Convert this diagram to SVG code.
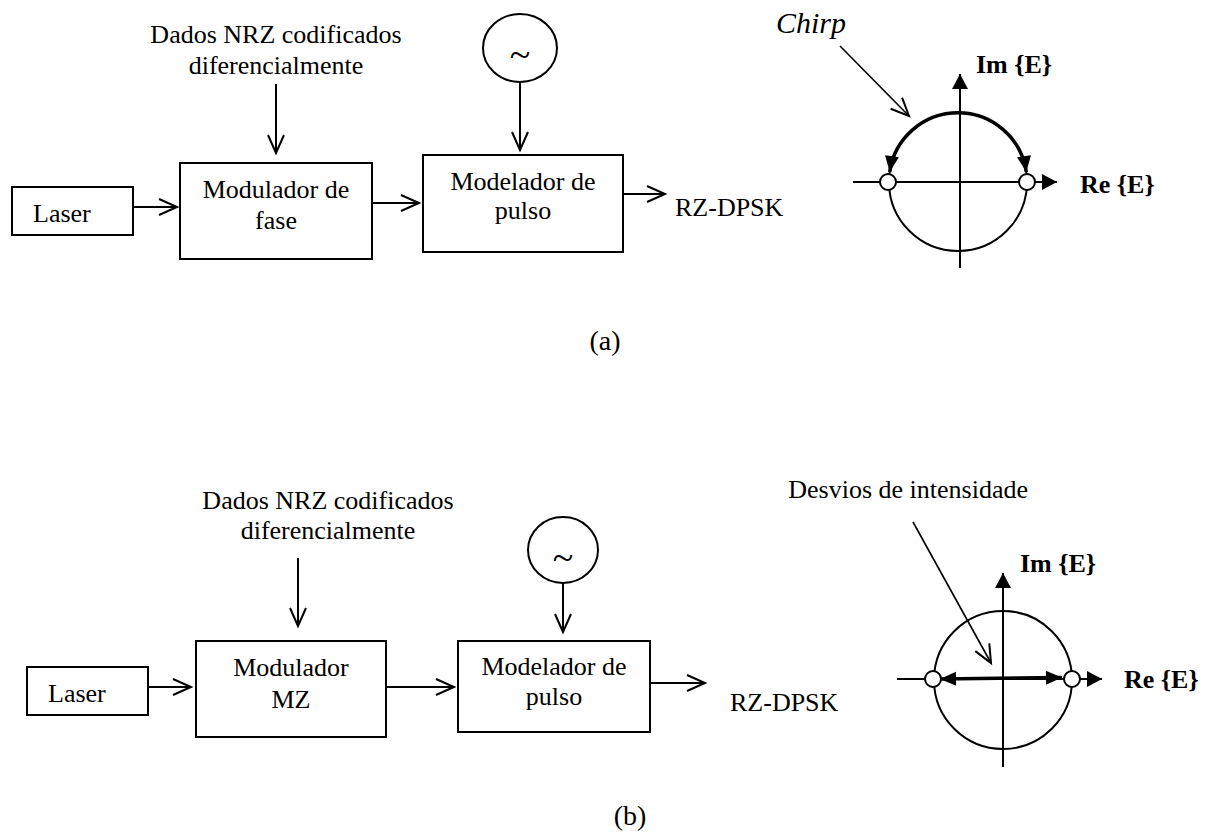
<svg xmlns="http://www.w3.org/2000/svg" width="1205" height="833" viewBox="0 0 1205 833">
<style>
.t{font-family:"Liberation Serif","Times New Roman",serif;font-size:26px;fill:#000}
.m{text-anchor:middle}
.b{font-weight:bold}
.tl{font-size:38px}
.box{fill:#fff;stroke:#000;stroke-width:2}
.ln{fill:none;stroke:#000;stroke-width:2}
.thin{fill:none;stroke:#000;stroke-width:1.6}
.thk{fill:none;stroke:#000;stroke-width:3.5}
.dot{fill:#fff;stroke:#000;stroke-width:2}
</style>
<defs>
<marker id="open" markerUnits="userSpaceOnUse" viewBox="-20 -10 22 20" refX="0" refY="0" markerWidth="22" markerHeight="20" orient="auto" overflow="visible">
<path d="M-18,-8 L0,0 L-18,8" fill="none" stroke="#000" stroke-width="2"/>
</marker>
<marker id="fill" markerUnits="userSpaceOnUse" viewBox="-16 -9 17 18" refX="0" refY="0" markerWidth="17" markerHeight="18" orient="auto-start-reverse" overflow="visible">
<path d="M-15,-8 L0,0 L-15,8 Z" fill="#000"/>
</marker>
<marker id="fill2" markerUnits="userSpaceOnUse" viewBox="-17 -8 18 16" refX="0" refY="0" markerWidth="18" markerHeight="16" orient="auto-start-reverse" overflow="visible">
<path d="M-16,-7 L0,0 L-16,7 Z" fill="#000"/>
</marker>
</defs>
<rect width="1205" height="833" fill="#fff"/>

<!-- (a) -->
<g id="laser-a"><rect class="box" x="12" y="187" width="121" height="48"/><text class="t" x="33" y="222">Laser</text></g>
<g id="modfase-a"><rect class="box" x="180" y="163" width="192" height="96"/><text class="t m" x="276" y="198">Modulador de</text><text class="t m" x="276" y="229">fase</text></g>
<g id="modelador-a"><rect class="box" x="423" y="155" width="200" height="97"/><text class="t m" x="523" y="190">Modelador de</text><text class="t m" x="523" y="219">pulso</text></g>
<g id="osc-a"><ellipse class="ln" cx="520" cy="48" rx="37" ry="34"/><text class="t m tl" x="520" y="67">~</text></g>
<g id="data-a"><text class="t m" x="276" y="43">Dados NRZ codificados</text><text class="t m" x="276" y="74">diferencialmente</text></g>
<g id="out-a"><text class="t" x="675" y="216">RZ-DPSK</text></g>
<g id="chirp-label"><text class="t" x="776" y="33" style="font-style:italic;font-size:30px">Chirp</text></g>
<g id="const-a">
<circle class="ln" cx="958" cy="182" r="69"/>
<line class="ln" x1="853" y1="182" x2="1057" y2="182" marker-end="url(#fill)"/>
<line class="ln" x1="960" y1="268" x2="960" y2="74" marker-end="url(#fill)"/>
<path class="thk" d="M889.7,172 A69,69 0 0 1 1026.3,172" marker-start="url(#fill2)" marker-end="url(#fill2)"/>
<circle class="dot" cx="888" cy="182" r="8"/>
<circle class="dot" cx="1027" cy="182" r="8"/>
<text class="t b" x="976" y="73">Im {E}</text>
<text class="t b" x="1080" y="193">Re {E}</text>
</g>
<text class="t m" x="605" y="350" style="font-size:28px">(a)</text>

<!-- (b) -->
<g id="laser-b"><rect class="box" x="27" y="667" width="121" height="48"/><text class="t" x="48" y="702">Laser</text></g>
<g id="modmz-b"><rect class="box" x="196" y="641" width="190" height="96"/><text class="t m" x="291" y="676">Modulador</text><text class="t m" x="291" y="708">MZ</text></g>
<g id="modelador-b"><rect class="box" x="458" y="641" width="192" height="91"/><text class="t m" x="554" y="675">Modelador de</text><text class="t m" x="554" y="705">pulso</text></g>
<g id="osc-b"><ellipse class="ln" cx="563" cy="550" rx="35" ry="33"/><text class="t m tl" x="563" y="570">~</text></g>
<g id="data-b"><text class="t m" x="328" y="509">Dados NRZ codificados</text><text class="t m" x="328" y="539">diferencialmente</text></g>
<g id="out-b"><text class="t" x="730" y="711">RZ-DPSK</text></g>
<g id="desvios-label"><text class="t" x="1028" y="498" style="text-anchor:end">Desvios de intensidade</text></g>
<g id="const-b">
<circle class="ln" cx="1003" cy="680" r="69"/>
<line class="ln" x1="897" y1="679" x2="1102" y2="679" marker-end="url(#fill)"/>
<line class="ln" x1="1003" y1="767" x2="1003" y2="573" marker-end="url(#fill)"/>
<line class="thk" x1="940" y1="679" x2="1062" y2="677.5" marker-start="url(#fill2)" marker-end="url(#fill2)"/>
<circle class="dot" cx="933" cy="679" r="8"/>
<circle class="dot" cx="1072" cy="679" r="8"/>
<text class="t b" x="1020" y="572">Im {E}</text>
<text class="t b" x="1124" y="688">Re {E}</text>
</g>
<text class="t m" x="630" y="825" style="font-size:28px">(b)</text>

<g id="connectors">
<line class="ln" x1="133" y1="207" x2="177" y2="207" marker-end="url(#open)"/>
<line class="ln" x1="372" y1="203" x2="419" y2="203" marker-end="url(#open)"/>
<line class="ln" x1="623" y1="194" x2="665" y2="194" marker-end="url(#open)"/>
<line class="ln" x1="276" y1="84" x2="276" y2="153" marker-end="url(#open)"/>
<line class="ln" x1="520" y1="82" x2="520" y2="150" marker-end="url(#open)"/>
<line class="thin" x1="840" y1="46" x2="909" y2="116" marker-end="url(#open)"/>
<line class="ln" x1="148" y1="687" x2="191" y2="687" marker-end="url(#open)"/>
<line class="ln" x1="386" y1="687" x2="454" y2="687" marker-end="url(#open)"/>
<line class="ln" x1="650" y1="683" x2="705" y2="683" marker-end="url(#open)"/>
<line class="ln" x1="298" y1="558" x2="298" y2="626" marker-end="url(#open)"/>
<line class="ln" x1="563" y1="583" x2="563" y2="632" marker-end="url(#open)"/>
<line class="thin" x1="913" y1="522" x2="991" y2="663" marker-end="url(#open)"/>
</g>
</svg>
